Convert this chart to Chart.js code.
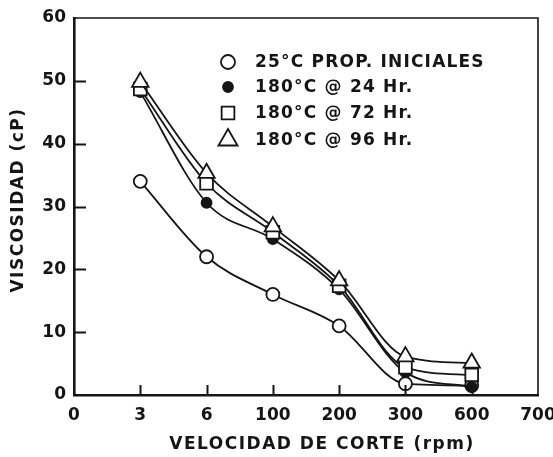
<!DOCTYPE html>
<html>
<head>
<meta charset="utf-8">
<script src="https://cdn.jsdelivr.net/npm/chart.js@4/dist/chart.umd.min.js"></script>
<style>
  html, body { margin: 0; padding: 0; background: #fff; }
  canvas { display: block; }
</style>
</head>
<body>
<canvas id="c" width="553" height="457"></canvas>
<script>
// Shear-rate categories, evenly spaced along the axis (positions 0..7)
const tickLabels = ['0', '3', '6', '100', '200', '300', '600', '700'];
const xPositions = [1, 2, 3, 4, 5, 6];

// Viscosity (cP) per series
const inicial25 = [34, 22, 16, 11, 1.8, 1.5];
const h24 = [48.2, 30.6, 24.8, 16.8, 3.6, 1.3];
const h72 = [48.7, 33.7, 25.9, 17.4, 4.4, 3.2];
const h96 = [49.8, 35.3, 26.8, 18.2, 6.1, 5.1];

const seriesNames = [
  '25\u00B0C PROP. INICIALES',
  '180\u00B0C @ 24 Hr.',
  '180\u00B0C @ 72 Hr.',
  '180\u00B0C @ 96 Hr.'
];

const FONT = '"DejaVu Sans", sans-serif';
const INK = '#151515';

const toPoints = vals => vals.map((v, i) => ({ x: xPositions[i], y: v }));

function series(label, vals, style, radius, fill, order) {
  return {
    label,
    data: toPoints(vals),
    borderColor: INK,
    borderWidth: 1.8,
    cubicInterpolationMode: 'monotone',
    pointStyle: style,
    pointRadius: radius,
    pointBorderWidth: 1.8,
    pointBorderColor: INK,
    pointBackgroundColor: fill,
    order
  };
}

const datasets = [
  series(seriesNames[0], inicial25, 'circle', 6.5, '#fff', 3),
  series(seriesNames[1], h24, 'circle', 5, INK, 2),
  series(seriesNames[2], h72, 'rect', 9, '#fff', 1),
  series(seriesNames[3], h96, 'triangle', 9.5, '#fff', 0)
];

// Frame, inward tick marks, axis titles and the in-plot key
const decorations = {
  id: 'decorations',
  afterDraw(chart) {
    const ctx = chart.ctx;
    const a = chart.chartArea;
    const xs = chart.scales.x, ys = chart.scales.y;
    ctx.save();
    ctx.strokeStyle = INK;

    // top and right frame lines
    ctx.lineWidth = 1.6;
    ctx.beginPath();
    ctx.moveTo(a.left, a.top);
    ctx.lineTo(a.right, a.top);
    ctx.lineTo(a.right, a.bottom);
    ctx.stroke();

    // inward ticks
    ctx.lineWidth = 2;
    ctx.beginPath();
    [10, 20, 30, 40, 50].forEach(v => {
      const py = Math.round(ys.getPixelForValue(v)) + 0.5;
      ctx.moveTo(a.left, py);
      ctx.lineTo(a.left + 12, py);
    });
    xPositions.forEach(v => {
      const px = Math.round(xs.getPixelForValue(v)) + 0.5;
      ctx.moveTo(px, a.bottom);
      ctx.lineTo(px, a.bottom - 10);
    });
    ctx.stroke();

    // axis titles
    ctx.fillStyle = INK;
    ctx.font = 'bold 17px ' + FONT;
    ctx.letterSpacing = '1.5px';
    ctx.textAlign = 'center';
    ctx.textBaseline = 'middle';
    ctx.fillText('VELOCIDAD DE CORTE (rpm)', 322, 445);
    ctx.save();
    ctx.translate(19, 200);
    ctx.rotate(-Math.PI / 2);
    ctx.fillText('VISCOSIDAD (cP)', 0, 0);
    ctx.restore();

    // key
    const rows = [62, 87, 113, 140];
    const sizes = [7, 5, 9, 11];
    ctx.textAlign = 'left';
    ctx.letterSpacing = '1.2px';
    chart.data.datasets.forEach((ds, i) => {
      ctx.fillStyle = ds.pointBackgroundColor;
      ctx.strokeStyle = INK;
      ctx.lineWidth = 1.8;
      Chart.helpers.drawPoint(ctx, {
        pointStyle: ds.pointStyle,
        radius: sizes[i],
        borderWidth: 1.8,
        rotation: 0
      }, 228, rows[i]);
      ctx.fillStyle = INK;
      ctx.fillText(ds.label, 255, rows[i] + 1);
    });
    ctx.restore();
  }
};

new Chart(document.getElementById('c'), {
  type: 'line',
  data: { datasets },
  options: {
    responsive: false,
    animation: false,
    devicePixelRatio: 1,
    layout: { padding: { top: 18, right: 15, left: 0, bottom: 0 } },
    plugins: {
      legend: { display: false },
      tooltip: { enabled: false }
    },
    scales: {
      x: {
        type: 'linear',
        min: 0,
        max: 7,
        ticks: {
          stepSize: 1,
          color: INK,
          padding: 10,
          maxRotation: 0,
          autoSkip: false,
          font: { family: FONT, size: 17, weight: 'bold' },
          callback: v => tickLabels[v]
        },
        grid: { display: false, drawTicks: false },
        border: { display: true, color: INK, width: 2.6 },
        afterFit(s) { s.height = 62; s.paddingLeft = 0; s.paddingRight = 0; }
      },
      y: {
        min: 0,
        max: 60,
        ticks: {
          stepSize: 10,
          color: INK,
          padding: 8,
          font: { family: FONT, size: 17, weight: 'bold' }
        },
        grid: { display: false, drawTicks: false },
        border: { display: true, color: INK, width: 2.6 },
        afterFit(s) { s.width = 74; s.paddingTop = 0; s.paddingBottom = 0; }
      }
    }
  },
  plugins: [decorations]
});
</script>
</body>
</html>
